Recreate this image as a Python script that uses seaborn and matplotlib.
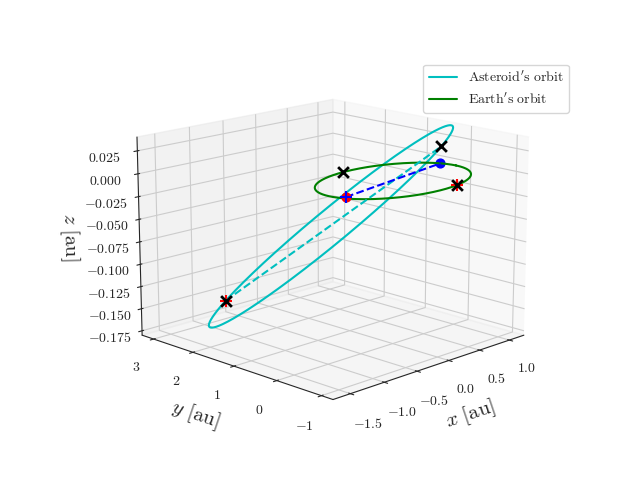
import numpy as np
import matplotlib
matplotlib.use("Agg")
import matplotlib.pyplot as plt
import seaborn as sns
from matplotlib.ticker import FuncFormatter

plt.rcParams['mathtext.fontset'] = 'cm'
plt.rcParams['font.family'] = 'DejaVu Serif'
sns.set_style("white")

# asteroid orbit elements (estimated)
a_ast = 1.65
e_ast = 0.576
u_dir = [0.40, -0.916, 0.055]    # perihelion direction
v_dir = [0.916, 0.40, 0.032]     # in-plane perpendicular
earth_r = 1.0
earth_pos_ang = 17.0      # deg, blue dot
ast_pos = [-0.9, -0.25, 0.0]  # red dot
node_black_ang = 97.0
node_red_ang = -72.0
x_ticks = [-1.5, -1.0, -0.5, 0.0, 0.5, 1.0]
y_ticks = [-1, 0, 1, 2, 3]
z_ticks = [-0.175, -0.15, -0.125, -0.1, -0.075, -0.05, -0.025, 0.0, 0.025]

u = np.array(u_dir); u /= np.linalg.norm(u)
v = np.array(v_dir); v /= np.linalg.norm(v)
b_ast = a_ast*np.sqrt(1-e_ast**2)
E = np.linspace(0, 2*np.pi, 400)
orb = np.outer(a_ast*(np.cos(E)-e_ast), u) + np.outer(b_ast*np.sin(E), v)
peri = a_ast*(1-e_ast)*u
aph = -a_ast*(1+e_ast)*u
t = np.linspace(0, 2*np.pi, 400)
ex, ey = earth_r*np.cos(t), earth_r*np.sin(t)

def ep(d):
    r = np.radians(d); return np.array([np.cos(r), np.sin(r), 0.0])

fig = plt.figure(figsize=(6.4, 4.8), dpi=100)
ax = fig.add_subplot(111, projection='3d')
ax.plot(orb[:, 0], orb[:, 1], orb[:, 2], color='c', label="$\\mathrm{Asteroid's\\ orbit}$")
ax.plot(ex, ey, 0*ex, color='g', label="$\\mathrm{Earth's\\ orbit}$")
ax.plot([aph[0], peri[0]], [aph[1], peri[1]], [aph[2], peri[2]], 'c--')
E1 = ep(earth_pos_ang); A1 = np.array(ast_pos)
ax.plot([A1[0], E1[0]], [A1[1], E1[1]], [A1[2], E1[2]], 'b--')
ax.scatter(*E1, color='b', s=40, depthshade=False)
ax.scatter(*A1, color='r', s=40, depthshade=False)
ax.scatter(*A1, color='b', marker='+', s=80, depthshade=False)
for p in [aph, ep(node_red_ang)]:
    ax.scatter(*p, color='r', marker='+', s=80, depthshade=False)
for p in [aph, peri, ep(node_black_ang), ep(node_red_ang)]:
    ax.scatter(*p, color='k', marker='x', s=60, linewidths=2, depthshade=False)

ax.set_xlim(-1.75, 1.25); ax.set_ylim(-1.25, 3.3); ax.set_zlim(-0.18, 0.04)
ax.set_xticks(x_ticks); ax.set_yticks(y_ticks); ax.set_zticks(z_ticks)
ax.xaxis.set_major_formatter(FuncFormatter(lambda x, p: f'${x:.1f}$'))
ax.yaxis.set_major_formatter(FuncFormatter(lambda x, p: f'${x:.0f}$'))
ax.zaxis.set_major_formatter(FuncFormatter(lambda x, p: f'${x:.3f}$'))
ax.set_xlabel('$x\\ \\mathrm{[au]}$', fontsize=15)
ax.set_ylabel('$y\\ \\mathrm{[au]}$', fontsize=15)
ax.set_zlabel('$z\\ \\mathrm{[au]}$', fontsize=15)
ax.view_init(elev=15, azim=-135)
ax.set_box_aspect(None, zoom=1.15)
ax.legend(loc='upper right', bbox_to_anchor=(0.9, 0.88), bbox_transform=fig.transFigure)
fig.savefig('out.png', dpi=100)
